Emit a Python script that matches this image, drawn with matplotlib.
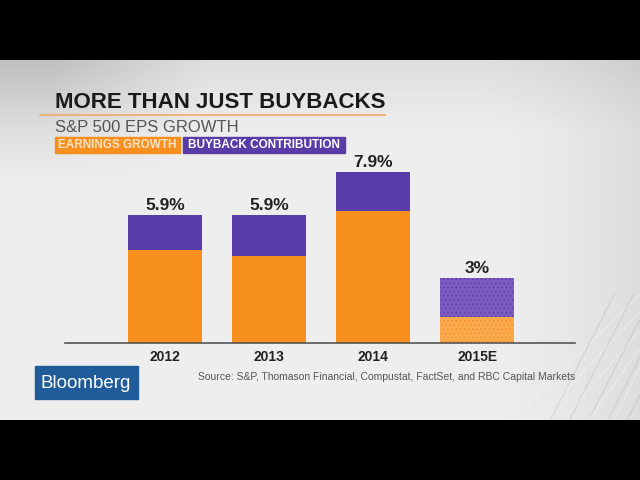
import numpy as np
import matplotlib.pyplot as plt
from matplotlib.patches import Rectangle

years = ["2012", "2013", "2014", "2015E"]
earnings = [4.3, 4.0, 6.1, 1.2]
buyback = [1.6, 1.9, 1.8, 1.8]
totals = ["5.9%", "5.9%", "7.9%", "3%"]
estimate = [False, False, False, True]

orange = "#F7901E"
purple = "#5A3CA8"

plt.rcParams["font.family"] = ["Liberation Sans", "DejaVu Sans"]

fig = plt.figure(figsize=(6.4, 4.8), dpi=100)
fig.patch.set_facecolor("black")

# light grey studio backdrop between the letterbox bars
bg = fig.add_axes([0, 60 / 480, 1, 360 / 480])
xx, yy = np.meshgrid(np.linspace(0, 1, 320), np.linspace(0, 1, 180))
shade = 0.93 - 0.10 * np.clip((xx - 0.75) * 3, 0, 1) ** 1.5 - 0.12 * np.clip((0.35 - yy) * 3, 0, 1) * np.clip((0.25 - xx) * 4 + 0.3, 0, 1)
shade -= 0.06 * np.clip((0.2 - yy) * 5, 0, 1)
bg.imshow(shade, cmap="gray", vmin=0, vmax=1, extent=[0, 1, 0, 1], aspect="auto", origin="upper")
for k in range(6):
    bg.plot([0.80 + k * 0.04, 1.0], [0.0, 0.35 - k * 0.05], color="white", lw=0.8, alpha=0.35)
    bg.plot([0.86 + k * 0.03, 0.96 + k * 0.03], [0.0, 0.35], color="#9a9a9a", lw=0.6, alpha=0.3)
bg.set_xlim(0, 1)
bg.set_ylim(0, 1)
bg.axis("off")

# bar chart
ax = fig.add_axes([65 / 640, (480 - 343) / 480, 510 / 640, 183 / 480])
ax.patch.set_alpha(0)
x = np.arange(len(years))
for i in x:
    if estimate[i]:
        plt.rcParams["hatch.linewidth"] = 0.6
        ax.bar(i, earnings[i], 0.71, color="#F9A94E", edgecolor=orange, hatch="....", lw=0)
        ax.bar(i, buyback[i], 0.71, bottom=earnings[i], color="#7A5CC0", edgecolor=purple, hatch="....", lw=0)
    else:
        ax.bar(i, earnings[i], 0.71, color=orange, lw=0)
        ax.bar(i, buyback[i], 0.71, bottom=earnings[i], color=purple, lw=0)
    ax.text(i, earnings[i] + buyback[i] + 0.08, totals[i], ha="center", va="bottom",
            fontsize=12.5, fontweight="bold", color="#222222")
ax.set_xlim(-0.96, 3.94)
ax.set_ylim(0, 8.43)
ax.set_xticks(x)
ax.set_xticklabels(years, fontsize=10, fontweight="bold", color="#222222")
ax.tick_params(axis="x", length=0, pad=5)
ax.set_yticks([])
for s in ["top", "right", "left"]:
    ax.spines[s].set_visible(False)
ax.spines["bottom"].set_color("#555555")
ax.spines["bottom"].set_linewidth(1.2)

# title block
fig.text(55 / 640, 1 - 102 / 480, "MORE THAN JUST BUYBACKS", fontsize=16, fontweight="bold",
         color="#1a1a1a", va="center", ha="left")
fig.add_artist(plt.Line2D([40 / 640, 385 / 640], [1 - 115 / 480] * 2, color="#F2A968", lw=1.2))
fig.text(55 / 640, 1 - 127 / 480, "S&P 500 EPS GROWTH", fontsize=12, color="#555555",
         va="center", ha="left")
fig.add_artist(Rectangle((55 / 640, 1 - 153 / 480), 125 / 640, 16 / 480, color=orange, transform=fig.transFigure))
fig.text(117.5 / 640, 1 - 145 / 480, "EARNINGS GROWTH", fontsize=8.5, fontweight="bold", color="#FCE4C8",
         va="center", ha="center")
fig.add_artist(Rectangle((183 / 640, 1 - 153 / 480), 162 / 640, 16 / 480, color=purple, transform=fig.transFigure))
fig.text(264 / 640, 1 - 145 / 480, "BUYBACK CONTRIBUTION", fontsize=8.5, fontweight="bold", color="white",
         va="center", ha="center")

# source and logo
fig.text(575 / 640, 1 - 377 / 480, "Source: S&P, Thomason Financial, Compustat, FactSet, and RBC Capital Markets",
         fontsize=7.5, color="#555555", ha="right", va="center")
fig.add_artist(Rectangle((35 / 640, 1 - 399 / 480), 103 / 640, 33 / 480, color="#1F5C99", transform=fig.transFigure))
fig.text(86 / 640, 1 - 383 / 480, "Bloomberg", fontsize=13.5, color="white", ha="center", va="center")

fig.savefig("out.png", dpi=100, facecolor=fig.get_facecolor())
